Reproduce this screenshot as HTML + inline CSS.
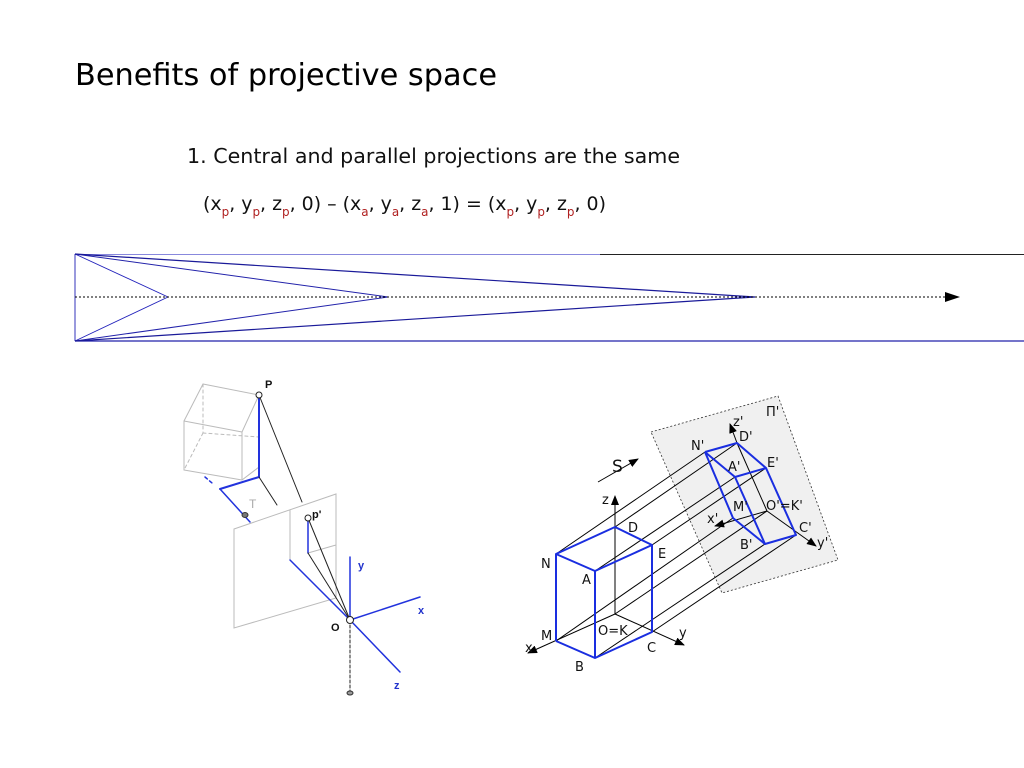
<!DOCTYPE html>
<html><head><meta charset="utf-8"><style>
html,body{margin:0;padding:0;background:#fff;}
svg{display:block;font-family:"DejaVu Sans","Liberation Sans",sans-serif;}
</style></head><body>
<svg width="1024" height="768" viewBox="0 0 1024 768" xmlns="http://www.w3.org/2000/svg">
<defs>
<marker id="ar" markerWidth="10" markerHeight="8" refX="9" refY="4" orient="auto" markerUnits="userSpaceOnUse"><path d="M0,0 L10,4 L0,8 Z" fill="#000"/></marker>
</defs>
<text x="75" y="85" font-size="30" textLength="422" lengthAdjust="spacingAndGlyphs" fill="#000">Benefits of projective space</text>
<text x="187" y="163" font-size="20" textLength="493" lengthAdjust="spacingAndGlyphs" fill="#111">1. Central and parallel projections are the same</text>
<text x="203" y="210" font-size="19" fill="#111" textLength="403" lengthAdjust="spacingAndGlyphs">(x<tspan font-size="12" dy="6" fill="#b02020">p</tspan><tspan dy="-6">, y</tspan><tspan font-size="12" dy="6" fill="#b02020">p</tspan><tspan dy="-6">, z</tspan><tspan font-size="12" dy="6" fill="#b02020">p</tspan><tspan dy="-6">, 0) – (x</tspan><tspan font-size="12" dy="6" fill="#b02020">a</tspan><tspan dy="-6">, y</tspan><tspan font-size="12" dy="6" fill="#b02020">a</tspan><tspan dy="-6">, z</tspan><tspan font-size="12" dy="6" fill="#b02020">a</tspan><tspan dy="-6">, 1) = (x</tspan><tspan font-size="12" dy="6" fill="#b02020">p</tspan><tspan dy="-6">, y</tspan><tspan font-size="12" dy="6" fill="#b02020">p</tspan><tspan dy="-6">, z</tspan><tspan font-size="12" dy="6" fill="#b02020">p</tspan><tspan dy="-6">, 0)</tspan></text>

<!-- band -->
<g fill="none">
<line x1="75" y1="254.5" x2="1024" y2="254.5" stroke="#8888dd" stroke-width="1"/>
<line x1="600" y1="254.5" x2="1024" y2="254.5" stroke="#222" stroke-width="1"/>
<line x1="75" y1="341" x2="1024" y2="341" stroke="#2020aa" stroke-width="1.2"/>
<line x1="75" y1="254" x2="75" y2="341" stroke="#3333bb" stroke-width="1"/>
<polyline points="75,254 168,297 75,341" stroke="#2222bb" stroke-width="0.9"/>
<polyline points="75,254 388,297 75,341" stroke="#2222aa" stroke-width="1"/>
<polyline points="75,254 755,297 75,341" stroke="#1a1a99" stroke-width="1.2"/>
<line x1="75" y1="297" x2="948" y2="297" stroke="#000" stroke-width="1" stroke-dasharray="2,2"/>
<path d="M945,292 L960,297 L945,302 Z" fill="#000"/>
</g>

<!-- left figure -->
<g fill="none" stroke-linecap="round">
<g stroke="#bbb" stroke-width="1">
<line x1="203" y1="384" x2="259" y2="395"/>
<line x1="203" y1="384" x2="184" y2="421"/>
<line x1="184" y1="421" x2="242" y2="432"/>
<line x1="242" y1="432" x2="259" y2="395"/>
<line x1="184" y1="421" x2="184" y2="470"/>
<line x1="184" y1="470" x2="242" y2="480"/>
<line x1="242" y1="432" x2="242" y2="480"/>
<line x1="242" y1="480" x2="259" y2="467"/>
<g stroke-dasharray="3,3"><line x1="203" y1="384" x2="203" y2="433"/><line x1="203" y1="433" x2="259" y2="437"/><line x1="203" y1="433" x2="184" y2="470"/></g>
<polygon points="234,529 336,494 336,598 234,628"/>
<line x1="290" y1="510" x2="290" y2="560"/>
<line x1="308" y1="553" x2="336" y2="545"/>
</g>
<g stroke="#2233dd" stroke-width="2">
<line x1="259" y1="395" x2="259" y2="477"/>
<line x1="259" y1="477" x2="220" y2="489"/>
</g>
<g stroke="#2233dd" stroke-width="1.5">
<line x1="220" y1="489" x2="250" y2="522"/>
<line x1="205" y1="477" x2="212" y2="483" stroke-dasharray="3,3"/>
<line x1="308" y1="518" x2="308" y2="553"/>
<line x1="290" y1="560" x2="350" y2="620"/>
<line x1="350" y1="620" x2="350" y2="557"/>
<line x1="350" y1="620" x2="420" y2="597"/>
<line x1="350" y1="620" x2="400" y2="672"/>
</g>
<g stroke="#222" stroke-width="1">
<line x1="259" y1="395" x2="302" y2="502"/>
<line x1="259" y1="477" x2="277" y2="505"/>
<line x1="308" y1="518" x2="350" y2="620"/>
<line x1="308" y1="553" x2="350" y2="620"/>
<line x1="350" y1="620" x2="350" y2="692" stroke-dasharray="3,2"/>
</g>
<circle cx="259" cy="395" r="3" fill="#fff" stroke="#222"/>
<circle cx="308" cy="518" r="3" fill="#fff" stroke="#222"/>
<circle cx="350" cy="620" r="3.5" fill="#fff" stroke="#222"/>
<ellipse cx="245" cy="515" rx="3" ry="2.5" fill="#777" stroke="#333"/>
<ellipse cx="350" cy="693" rx="3" ry="2" fill="#999" stroke="#333"/>
</g>
<g font-family="Liberation Sans, sans-serif" font-weight="bold" font-size="11">
<text x="265" y="388" fill="#111">P</text>
<text x="312" y="518" fill="#111">p'</text>
<text x="358" y="569" fill="#2233cc">y</text>
<text x="418" y="614" fill="#2233cc">x</text>
<text x="331" y="631" fill="#111">O</text>
<text x="394" y="689" fill="#2233cc">z</text>
<text x="249" y="508" fill="#aaa" font-weight="normal" font-size="12">T</text>
</g>

<!-- right figure -->
<polygon points="651,432 778,396 838,560 722,593" fill="#f0f0f0" stroke="#333" stroke-width="0.8" stroke-dasharray="2,2"/>
<g fill="none" stroke="#000" stroke-width="1">
<line x1="556" y1="554" x2="705" y2="452"/>
<line x1="615" y1="527" x2="737" y2="443"/>
<line x1="652" y1="545" x2="766" y2="468"/>
<line x1="595" y1="571" x2="735" y2="477"/>
<line x1="556" y1="641" x2="733" y2="518"/>
<line x1="615" y1="614" x2="767" y2="511"/>
<line x1="595" y1="658" x2="765" y2="544"/>
<line x1="652" y1="632" x2="796" y2="535"/>
<line x1="615" y1="614" x2="615" y2="496" marker-end="url(#ar)"/>
<line x1="615" y1="614" x2="528" y2="653" marker-end="url(#ar)"/>
<line x1="615" y1="614" x2="684" y2="645" marker-end="url(#ar)"/>
<line x1="737" y1="443" x2="767" y2="511"/>
<line x1="737" y1="443" x2="730" y2="424" marker-end="url(#ar)"/>
<line x1="767" y1="511" x2="715" y2="526" marker-end="url(#ar)"/>
<line x1="767" y1="511" x2="816" y2="546" marker-end="url(#ar)"/>
<line x1="598" y1="482" x2="638" y2="459" marker-end="url(#ar)"/>
</g>
<g fill="none" stroke="#1a2ee0" stroke-width="2" stroke-linejoin="round">
<polygon points="556,554 615,527 652,545 595,571"/>
<line x1="556" y1="554" x2="556" y2="641"/>
<polyline points="556,641 595,658 652,632 652,545"/>
<line x1="595" y1="571" x2="595" y2="658"/>
<polyline points="705,452 737,443 766,468 735,477 705,452"/>
<polyline points="705,452 733,518 765,544 796,535 766,468"/>
<line x1="735" y1="477" x2="765" y2="544"/>
</g>
<g font-family="DejaVu Sans, sans-serif" font-size="13" fill="#111">
<text x="612" y="472" font-size="17">S</text>
<text x="541" y="568">N</text>
<text x="582" y="584">A</text>
<text x="628" y="532">D</text>
<text x="658" y="558">E</text>
<text x="541" y="640">M</text>
<text x="575" y="671">B</text>
<text x="598" y="635">O=K</text>
<text x="647" y="652">C</text>
<text x="602" y="504">z</text>
<text x="525" y="652">x</text>
<text x="679" y="637">y</text>
<text x="766" y="416">Π'</text>
<text x="733" y="426">z'</text>
<text x="691" y="450">N'</text>
<text x="739" y="441">D'</text>
<text x="728" y="471">A'</text>
<text x="767" y="467">E'</text>
<text x="733" y="511">M'</text>
<text x="766" y="510">O'=K'</text>
<text x="707" y="523">x'</text>
<text x="799" y="532">C'</text>
<text x="740" y="549">B'</text>
<text x="817" y="547">y'</text>
</g>
</svg>
</body></html>
